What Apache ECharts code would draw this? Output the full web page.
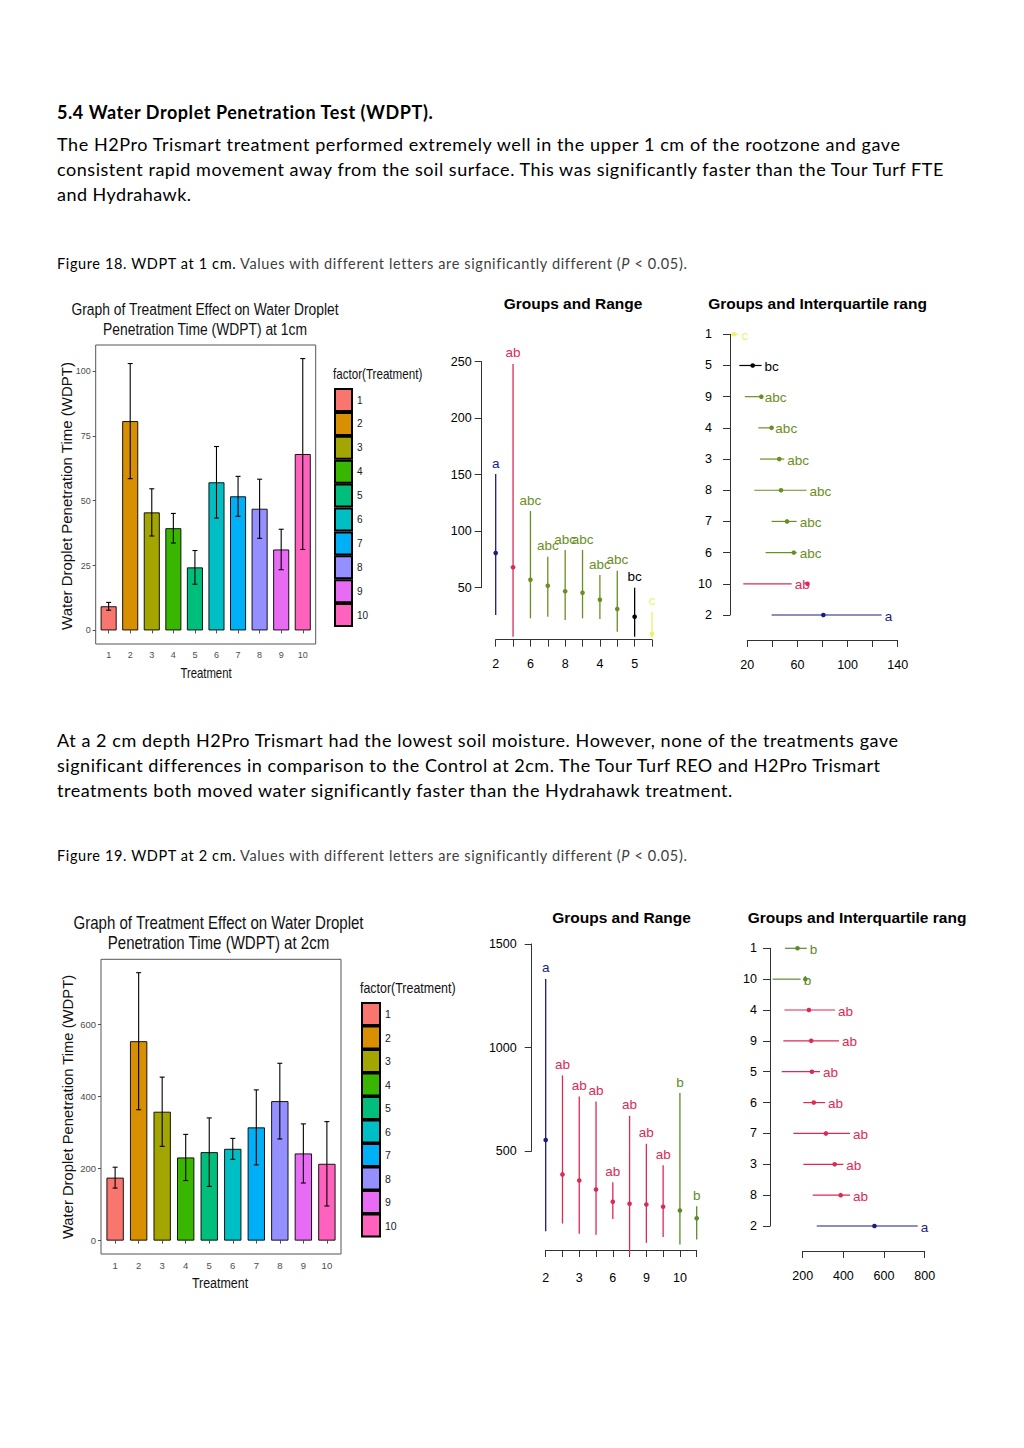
<!DOCTYPE html>
<html><head><meta charset="utf-8">
<script src="https://cdn.jsdelivr.net/npm/echarts@6/dist/echarts.min.js"></script>
<style>
html,body{margin:0;padding:0;background:#fff;}
#page{position:relative;width:1024px;height:1448px;overflow:hidden;background:#fff;}
#chart{position:absolute;left:0;top:0;width:1024px;height:1448px;}
.t{position:absolute;left:57px;white-space:nowrap;font-family:Lato,'Open Sans',sans-serif;color:#000;}
.body{font-size:18px;line-height:25px;height:25px;}
.cap{font-size:14.5px;line-height:20px;height:20px;}
.gray{color:#404040;}
</style></head>
<body><div id="page"><div id="chart"></div>
<div class="t body fit" data-w="376" style="top:100px;font-weight:bold">5.4 Water Droplet Penetration Test (WDPT).</div>
<div class="t body fit" data-w="843" style="top:132px">The H2Pro Trismart treatment performed extremely well in the upper 1 cm of the rootzone and gave</div>
<div class="t body fit" data-w="886" style="top:157px">consistent rapid movement away from the soil surface. This was significantly faster than the Tour Turf FTE</div>
<div class="t body fit" data-w="134" style="top:182px">and Hydrahawk.</div>
<div class="t cap fit" data-w="628" style="top:254px">Figure 18. WDPT at 1 cm.<span class="gray"> Values with different letters are significantly different (<i>P</i> &lt; 0.05).</span></div>
<div class="t body fit" data-w="841" style="top:728px">At a 2 cm depth H2Pro Trismart had the lowest soil moisture. However, none of the treatments gave</div>
<div class="t body fit" data-w="822" style="top:753px">significant differences in comparison to the Control at 2cm. The Tour Turf REO and H2Pro Trismart</div>
<div class="t body fit" data-w="675" style="top:778px">treatments both moved water significantly faster than the Hydrahawk treatment.</div>
<div class="t cap fit" data-w="628" style="top:846px">Figure 19. WDPT at 2 cm.<span class="gray"> Values with different letters are significantly different (<i>P</i> &lt; 0.05).</span></div>
</div>
<script>
// ---------------- DATA ----------------
const treatments = ['1','2','3','4','5','6','7','8','9','10'];
// Figure 18 – WDPT at 1 cm
const mean1cm = [9.3, 80.7, 45.5, 39.4, 24.3, 57.1, 51.7, 46.9, 31.2, 68.0];
const se1cm   = [1.5, 22.2, 9.1, 5.7, 6.5, 13.8, 7.7, 11.4, 7.8, 36.8];
const barTicks1cm = [0, 25, 50, 75, 100];
const rankOrder1cm = ['2','10','6','7','8','3','4','9','5','1'];
const groups1cm    = ['a','ab','abc','abc','abc','abc','abc','abc','bc','c'];
const rangeMin1cm  = [25.8, 6.6, 22.9, 24.3, 21.4, 22.9, 22.3, 11.1, 6.6, 5.2];
const rangeMax1cm  = [150.6, 248, 117.8, 77.4, 83.3, 83.3, 61.2, 65.0, 50.0, 28.8];
const q1_1cm = [39.4, 16.8, 34.6, 39.4, 25.6, 30.1, 28.8, 18.1, 13.6, 7.5];
const q3_1cm = [127.2, 55.4, 59.4, 59.4, 67.3, 49.5, 40.0, 31.5, 31.4, 13.0];
const iqrLabels1cm = [20, 60, 100, 140];
// Figure 19 – WDPT at 2 cm
const mean2cm = [174.6, 553, 357.4, 230.6, 245.3, 254.5, 314, 386.8, 241.7, 213];
const se2cm   = [29, 190, 96, 64, 95, 29, 104, 105, 82, 117];
const barTicks2cm = [0, 200, 400, 600];
const rankOrder2cm = ['2','8','3','7','6','5','9','4','10','1'];
const groups2cm    = ['a','ab','ab','ab','ab','ab','ab','ab','b','b'];
const rangeMin2cm  = [112.5, 149.5, 100, 95, 172, 0, 56, 85, 48, 72];
const rangeMax2cm  = [1331, 865, 763.7, 739.5, 349, 670, 535, 431, 780, 233];
const q1_2cm = [269, 249, 203, 154, 203, 97, 105, 110, 52, 113];
const q3_2cm = [765.6, 433, 400, 433, 310, 285, 379, 359, 190, 220];
const iqrLabels2cm = [200, 400, 600, 800];

// ---------------- STYLE ----------------
const HUE = ['#F8766D','#D89000','#A3A500','#39B600','#00BF7D','#00BFC4','#00B0F6','#9590FF','#E76BF3','#FF62BC'];
const ARIAL = "'Liberation Sans',Arial,sans-serif";
const colors1cm = {a:'#1c1c80', ab:'#dc2a55', abc:'#6b8e23', bc:'#000000', c:'#eef26a'};
const colors2cm = {a:'#1c1c80', ab:'#dc2a55', b:'#5e8a2a'};

// fit body text lines
document.querySelectorAll('.fit').forEach(el=>{
  const target = +el.dataset.w;
  el.style.display='inline-block';
  const w = el.getBoundingClientRect().width;
  const n = el.textContent.length - 1;
  el.style.letterSpacing = ((target - w)/n) + 'px';
});

function gtext(x, y, text, size, o) {
  o = o || {};
  const st = {text: text, fill: o.color || '#000',
    font: (o.weight||'normal') + ' ' + size + 'px ' + ARIAL,
    align: o.align||'center', verticalAlign: o.va||'middle',
    textAlign: o.align||'center', textVerticalAlign: o.va||'middle'};
  return {type:'text', x:x, y:y, rotation:o.rot||0, scaleX:o.sx||1, silent:true, style:st, z:10};
}

function errRender(params, api) {
  const x = api.value(0), m = api.value(1), e = api.value(2);
  const t = api.coord([x, m+e]), b = api.coord([x, m-e]);
  const hw = 2.5, s = {stroke:'#000', lineWidth:1.1};
  return {type:'group', children:[
    {type:'line', shape:{x1:t[0],y1:t[1],x2:b[0],y2:b[1]}, style:s},
    {type:'line', shape:{x1:t[0]-hw,y1:t[1],x2:t[0]+hw,y2:t[1]}, style:s},
    {type:'line', shape:{x1:b[0]-hw,y1:b[1],x2:b[0]+hw,y2:b[1]}, style:s}
  ]};
}
function rangeRender(groups, cmap) {
  return function(params, api) {
    const i = api.value(0);
    const p0 = api.coord([i, api.value(1)]), p1 = api.coord([i, api.value(2)]), pm = api.coord([i, api.value(3)]);
    const g = groups[params.dataIndex], c = cmap[g];
    return {type:'group', children:[
      {type:'line', shape:{x1:p0[0],y1:p0[1],x2:p1[0],y2:p1[1]}, style:{stroke:c, lineWidth:1.3}},
      {type:'circle', shape:{cx:pm[0], cy:pm[1], r:2.3}, style:{fill:c}},
      {type:'text', style:{text:g, x:p1[0], y:p1[1]-4, fill:c, font:'13.5px '+ARIAL,
        align:'center', verticalAlign:'bottom', textAlign:'center', textVerticalAlign:'bottom'}}
    ]};
  };
}
function iqrRender(groups, cmap) {
  return function(params, api) {
    const r = api.value(0);
    const a = api.coord([api.value(1), r]), b = api.coord([api.value(2), r]), m = api.coord([api.value(3), r]);
    const g = groups[params.dataIndex], c = cmap[g];
    return {type:'group', children:[
      {type:'line', shape:{x1:a[0],y1:a[1],x2:b[0],y2:b[1]}, style:{stroke:c, lineWidth:1.2}},
      {type:'circle', shape:{cx:m[0], cy:m[1], r:2.3}, style:{fill:c}},
      {type:'text', style:{text:g, x:b[0]+3, y:b[1]+1, fill:c, font:'13.5px '+ARIAL,
        align:'left', verticalAlign:'middle', textAlign:'left', textVerticalAlign:'middle'}}
    ]};
  };
}

const idx = treatments.map((t,i)=>i+1);
function ggLimits(mean, se){ const M = Math.max(...mean.map((m,i)=>m+se[i])); return [-0.05*M, 1.05*M]; }
const lim1 = ggLimits(mean1cm, se1cm), lim2 = ggLimits(mean2cm, se2cm);

const ggAxisLabel = (size) => ({color:'#4d4d4d', fontFamily:ARIAL, fontSize:size});
const rAxisLine = {show:true, lineStyle:{color:'#333', width:1}};
const rTick = {show:true, length:7, lineStyle:{color:'#333', width:1}};
const rLabel = {color:'#000', fontFamily:ARIAL, fontSize:12.5};
const plain = v => String(v);

const grids = [
  {left:95.7, top:345, width:220, height:299, show:true, borderColor:'#555', borderWidth:1, backgroundColor:'#fff'},
  {left:101, top:959.3, width:240, height:294.7, show:true, borderColor:'#555', borderWidth:1, backgroundColor:'#fff'},
  {left:495.7, top:361.7, width:156.3, height:226},
  {left:747.3, top:334.3, width:150.4, height:280.7},
  {left:545.7, top:944, width:151, height:207},
  {left:802.7, top:948.3, width:122, height:277.7}
];

const xAxes = [
  {gridIndex:0, type:'value', min:0.4, max:10.6, axisLine:{show:false}, splitLine:{show:false},
   axisTick:{show:true, customValues:idx, length:3, lineStyle:{color:'#4d4d4d'}},
   axisLabel:Object.assign({customValues:idx, margin:6, formatter:v=>treatments[Math.round(v)-1]||''}, ggAxisLabel(9))},
  {gridIndex:1, type:'value', min:0.4, max:10.6, axisLine:{show:false}, splitLine:{show:false},
   axisTick:{show:true, customValues:idx, length:3, lineStyle:{color:'#4d4d4d'}},
   axisLabel:Object.assign({customValues:idx, margin:6, formatter:v=>treatments[Math.round(v)-1]||''}, ggAxisLabel(9.5))},
  {gridIndex:2, type:'category', data:rankOrder1cm, boundaryGap:false, offset:52,
   axisLine:rAxisLine, axisTick:Object.assign({interval:0}, rTick), splitLine:{show:false},
   axisLabel:Object.assign({interval:1, margin:18}, rLabel)},
  {gridIndex:3, type:'value', min:20, max:140, interval:20, offset:25,
   axisLine:rAxisLine, axisTick:rTick, splitLine:{show:false},
   axisLabel:Object.assign({margin:18, formatter:v=>iqrLabels1cm.includes(v)?String(v):''}, rLabel)},
  {gridIndex:4, type:'category', data:rankOrder2cm, boundaryGap:false, offset:99,
   axisLine:rAxisLine, axisTick:Object.assign({interval:0}, rTick), splitLine:{show:false},
   axisLabel:Object.assign({interval:1, margin:21}, rLabel)},
  {gridIndex:5, type:'value', min:200, max:800, interval:200, offset:25,
   axisLine:rAxisLine, axisTick:rTick, splitLine:{show:false},
   axisLabel:Object.assign({margin:18.5, formatter:v=>iqrLabels2cm.includes(v)?String(v):''}, rLabel)}
];
const yAxes = [
  {gridIndex:0, type:'value', min:lim1[0], max:lim1[1], axisLine:{show:false}, splitLine:{show:false},
   axisTick:{show:true, customValues:barTicks1cm, length:3, lineStyle:{color:'#4d4d4d'}},
   axisLabel:Object.assign({customValues:barTicks1cm, margin:5, formatter:plain}, ggAxisLabel(9))},
  {gridIndex:1, type:'value', min:lim2[0], max:lim2[1], axisLine:{show:false}, splitLine:{show:false},
   axisTick:{show:true, customValues:barTicks2cm, length:3, lineStyle:{color:'#4d4d4d'}},
   axisLabel:Object.assign({customValues:barTicks2cm, margin:5, formatter:plain}, ggAxisLabel(9.5))},
  {gridIndex:2, type:'value', min:50, max:250, interval:50, offset:14,
   axisLine:rAxisLine, axisTick:rTick, splitLine:{show:false}, axisLabel:Object.assign({margin:10, formatter:plain}, rLabel)},
  {gridIndex:3, type:'category', data:rankOrder1cm, boundaryGap:false, offset:17.3,
   axisLine:rAxisLine, axisTick:Object.assign({interval:0}, rTick), splitLine:{show:false},
   axisLabel:Object.assign({interval:0, margin:18}, rLabel)},
  {gridIndex:4, type:'value', min:500, max:1500, interval:500, offset:14,
   axisLine:rAxisLine, axisTick:rTick, splitLine:{show:false}, axisLabel:Object.assign({margin:15, formatter:plain}, rLabel)},
  {gridIndex:5, type:'category', data:rankOrder2cm, boundaryGap:false, offset:32.7,
   axisLine:rAxisLine, axisTick:Object.assign({interval:0}, rTick), splitLine:{show:false},
   axisLabel:Object.assign({interval:0, margin:13}, rLabel)}
];

const series = [];
function addBars(means, ses, gi, bw) {
  treatments.forEach((t,i)=>{
    series.push({type:'bar', name:t, xAxisIndex:gi, yAxisIndex:gi, barWidth:bw, barGap:'-100%',
      data:[[i+1, means[i]]], itemStyle:{color:HUE[i], borderColor:'#000', borderWidth:0.9}, z:2});
  });
  series.push({type:'custom', name:'err'+gi, xAxisIndex:gi, yAxisIndex:gi, renderItem:errRender, clip:false, z:5,
    data: treatments.map((t,i)=>[i+1, means[i], ses[i]])});
}
addBars(mean1cm, se1cm, 0, 16);
addBars(mean2cm, se2cm, 1, 17.3);

function meanOf(order, means){ return order.map(t=>means[treatments.indexOf(t)]); }
const m1 = meanOf(rankOrder1cm, mean1cm), m2 = meanOf(rankOrder2cm, mean2cm);
series.push({type:'custom', name:'range1', xAxisIndex:2, yAxisIndex:2, clip:false, renderItem:rangeRender(groups1cm, colors1cm),
  data: rankOrder1cm.map((t,i)=>[i, rangeMin1cm[i], rangeMax1cm[i], m1[i]])});
series.push({type:'custom', name:'iqr1', xAxisIndex:3, yAxisIndex:3, clip:false, renderItem:iqrRender(groups1cm, colors1cm),
  data: rankOrder1cm.map((t,i)=>[i, q1_1cm[i], q3_1cm[i], m1[i]])});
series.push({type:'custom', name:'range2', xAxisIndex:4, yAxisIndex:4, clip:false, renderItem:rangeRender(groups2cm, colors2cm),
  data: rankOrder2cm.map((t,i)=>[i, rangeMin2cm[i], rangeMax2cm[i], m2[i]])});
series.push({type:'custom', name:'iqr2', xAxisIndex:5, yAxisIndex:5, clip:false, renderItem:iqrRender(groups2cm, colors2cm),
  data: rankOrder2cm.map((t,i)=>[i, q1_2cm[i], q3_2cm[i], m2[i]])});

const legendBase = {data:treatments, orient:'vertical', icon:'rect', selectedMode:false, itemHeight:22, padding:0,
  textStyle:{fontFamily:ARIAL, fontSize:10, color:'#1a1a1a'}};

const graphic = [
  gtext(205, 308.5, 'Graph of Treatment Effect on Water Droplet', 17, {sx:0.815, color:'#111'}),
  gtext(205, 328.5, 'Penetration Time (WDPT) at 1cm', 17, {sx:0.815, color:'#111'}),
  gtext(66, 496, 'Water Droplet Penetration Time (WDPT)', 15, {rot:Math.PI/2, color:'#111'}),
  gtext(206, 673, 'Treatment', 14, {sx:0.81, color:'#111'}),
  gtext(333, 374.5, 'factor(Treatment)', 14, {sx:0.83, align:'left', color:'#111'}),
  gtext(218.5, 922.7, 'Graph of Treatment Effect on Water Droplet', 18.4, {sx:0.818, color:'#111'}),
  gtext(218.5, 942.7, 'Penetration Time (WDPT) at 2cm', 18.4, {sx:0.818, color:'#111'}),
  gtext(68, 1107, 'Water Droplet Penetration Time (WDPT)', 14.8, {rot:Math.PI/2, color:'#111'}),
  gtext(220, 1283, 'Treatment', 15, {sx:0.83, color:'#111'}),
  gtext(360, 988, 'factor(Treatment)', 15, {sx:0.83, align:'left', color:'#111'}),
  gtext(573, 303.5, 'Groups and Range', 15.5, {weight:'bold'}),
  gtext(817.5, 303.5, 'Groups and Interquartile rang', 15.5, {weight:'bold'}),
  gtext(621.5, 917.5, 'Groups and Range', 15.5, {weight:'bold'}),
  gtext(857, 917.5, 'Groups and Interquartile rang', 15.5, {weight:'bold'})
];

const chart = echarts.init(document.getElementById('chart'), null, {renderer:'svg'});
chart.setOption({
  animation:false,
  backgroundColor:'transparent',
  grid:grids, xAxis:xAxes, yAxis:yAxes, series:series,
  legend:[
    Object.assign({left:334, top:388, itemWidth:17, itemGap:-0.1}, legendBase),
    Object.assign({left:361, top:1002, itemWidth:18, itemGap:-0.5}, legendBase, {textStyle:{fontFamily:ARIAL, fontSize:10.5, color:'#1a1a1a'}})
  ],
  graphic:graphic
});
</script>
</body></html>
